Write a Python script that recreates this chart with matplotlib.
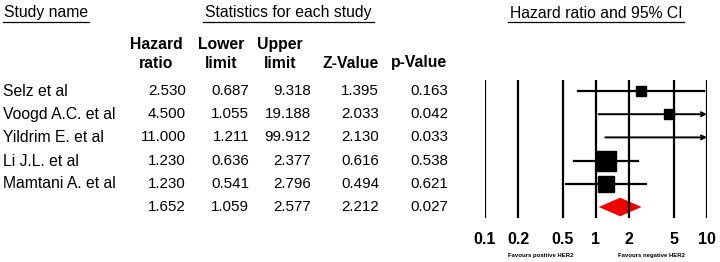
import numpy as np
import matplotlib
matplotlib.use("Agg")
import matplotlib.pyplot as plt
from matplotlib.lines import Line2D

plt.rcParams["font.family"] = ["Liberation Sans", "DejaVu Sans"]

studies = ["Selz et al", "Voogd A.C. et al", "Yildrim E. et al", "Li J.L. et al", "Mamtani A. et al", ""]
hr = [2.530, 4.500, 11.000, 1.230, 1.230, 1.652]
lower = [0.687, 1.055, 1.211, 0.636, 0.541, 1.059]
upper = [9.318, 19.188, 99.912, 2.377, 2.796, 2.577]
zval = [1.395, 2.033, 2.130, 0.616, 0.494, 2.212]
pval = [0.163, 0.042, 0.033, 0.538, 0.621, 0.027]
box_size = [6.5, 6.5, 6.5, 14.5, 11.5]  # marker size by study weight
xticks = [0.1, 0.2, 0.5, 1, 2, 5, 10]
xticklabels = ["0.1", "0.2", "0.5", "1", "2", "5", "10"]

W, H = 720, 262
fig = plt.figure(figsize=(W / 100, H / 100), dpi=100)
FS_TXT = 11.3
FS_NUM = 10.9

def fx(x):
    return x / W

def fy(y):
    return 1 - y / H

def underlined(x0, x1, y, s):
    fig.text(fx((x0 + x1) / 2), fy(y), s, ha="center", va="center", fontsize=FS_TXT)
    fig.add_artist(Line2D([fx(x0), fx(x1)], [fy(22), fy(22)], color="black", lw=0.9))

underlined(3, 89, 13, "Study name")
underlined(203, 374, 13, "Statistics for each study")
underlined(508, 684, 13, "Hazard ratio and 95% CI")

# column headers
heads = [(156, "Hazard", "ratio"), (221, "Lower", "limit"), (280, "Upper", "limit")]
for cx, a, b in heads:
    fig.text(fx(cx), fy(44), a, ha="center", va="center", fontsize=FS_TXT, fontweight="bold")
    fig.text(fx(cx), fy(63), b, ha="center", va="center", fontsize=FS_TXT, fontweight="bold")
fig.text(fx(351), fy(63), "Z-Value", ha="center", va="center", fontsize=FS_TXT, fontweight="bold")
fig.text(fx(419), fy(63), "p-Value", ha="center", va="center", fontsize=FS_TXT, fontweight="bold")

# table rows
row_y = [91, 114, 137, 161, 184, 207]
for i, y in enumerate(row_y):
    fig.text(fx(3), fy(y), studies[i], ha="left", va="center", fontsize=FS_TXT)
    for xr, v in zip([186, 249, 311, 379, 448], [hr[i], lower[i], upper[i], zval[i], pval[i]]):
        fig.text(fx(xr), fy(y), f"{v:.3f}", ha="right", va="center", fontsize=FS_NUM)

# forest plot
ax = fig.add_axes([fx(485), fy(218), fx(707 - 485), (218 - 80) / H])
ax.set_xscale("log")
ax.set_xlim(0.1, 10)
top, bot = (80 - 91) / 23.2, (218 - 91) / 23.2
ax.set_ylim(bot, top)
for s in ax.spines.values():
    s.set_visible(False)
for t in xticks:
    ax.axvline(t, color="black", lw=1.6)
ax.set_xticks(xticks)
ax.set_xticklabels(xticklabels, fontsize=11.5, fontweight="bold")
ax.minorticks_off()
ax.tick_params(axis="x", length=0, pad=10)
ax.set_yticks([])

for i in range(5):
    lo, up = lower[i], upper[i]
    if up > 10:
        ax.annotate("", xy=(10, i), xytext=(lo, i),
                    arrowprops=dict(arrowstyle="->", lw=1.4, color="black",
                                    shrinkA=0, shrinkB=0, mutation_scale=7),
                    annotation_clip=False)
    else:
        ax.plot([lo, up], [i, i], color="black", lw=1.6)
    if hr[i] <= 10:
        ax.plot(hr[i], i, marker="s", ms=box_size[i], color="black", mec="black")

i = 5
dx = [lower[i], hr[i], upper[i], hr[i]]
dy = [i, i - 0.4, i, i + 0.4]
ax.fill(dx, dy, color="#ee0000", lw=0)

fig.text(fx(541), fy(256), "Favours positive HER2", ha="center", va="center", fontsize=4.3, fontweight="bold")
fig.text(fx(652), fy(256), "Favours negative HER2", ha="center", va="center", fontsize=4.3, fontweight="bold")

fig.savefig("out.png", dpi=100)
